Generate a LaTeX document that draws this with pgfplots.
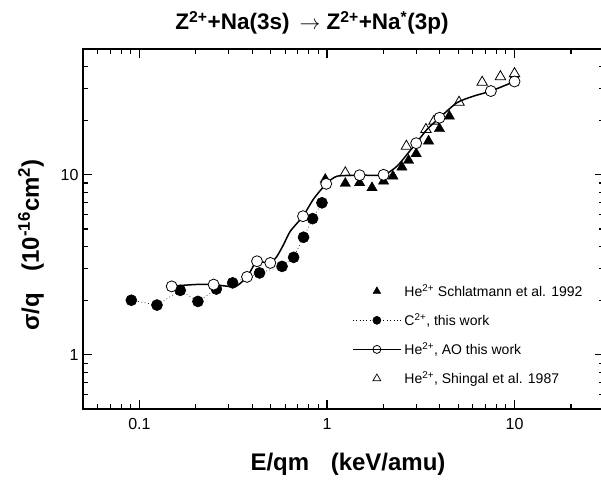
\documentclass[border=0pt]{standalone}
\usepackage{pgfplots}
\pgfplotsset{compat=1.18}
\usepackage{fontspec}
\setmainfont{Liberation Sans}

% C2+, this work
\pgfplotstableread{
x      y
0.0905 2.01
0.124  1.89
0.165  2.28
0.205  1.98
0.257  2.32
0.314  2.51
0.437  2.85
0.576  3.10
0.664  3.48
0.750  4.50
0.838  5.71
0.940  6.99
}\carbon

% He2+, AO this work (points)
\pgfplotstableread{
x      y
0.1486 2.40
0.2486 2.455
0.3746 2.71
0.4235 3.31
0.4986 3.24
0.745  5.89
0.991  8.91
1.492  9.95
2.003  10.0
2.99   14.99
3.983  20.75
7.48   29.2
10.0   33.0
}\heao

% He2+, AO this work (curve)
\pgfplotstableread{
x      y
0.1586 2.42
0.2028 2.46
0.2486 2.455
0.2988 2.40
0.3314 2.42
0.3746 2.71
0.4062 3.13
0.4235 3.31
0.4986 3.24
0.5414 3.53
0.587  4.10
0.6373 4.86
0.745  5.89
0.8484 7.35
0.991  8.91
1.131  9.82
1.492  9.95
2.003  10.0
2.361  11.16
2.669  12.97
2.99   14.99
3.412  17.86
3.983  20.75
4.93   25.15
6.045  27.36
7.48   29.2
10.0   33.0
}\heaocurve

% He2+ Schlatmann et al. 1992
\pgfplotstableread{
x     y
0.979 9.42
1.252 8.95
1.492 9.03
1.738 8.47
2.003 9.21
2.248 9.82
2.51  11.02
2.723 12.01
2.99  13.09
3.48  15.38
3.98  18.03
4.49  21.18
}\schlat

% He2+, Shingal et al. 1987
\pgfplotstableread{
x     y
1.252 10.26
2.651 14.42
3.37  17.86
3.72  19.87
5.06  25.3
6.72  32.7
8.41  35.1
10.0  36.5
}\shingal

\begin{document}
\begin{tikzpicture}[x=1pt,y=1pt]
\useasboundingbox (0,0) rectangle (601,485);
\begin{axis}[
  at={(83pt,76pt)}, anchor=south west,
  scale only axis, width=521pt, height=360pt,
  xmode=log, ymode=log,
  xmin=0.05, xmax=30, ymin=0.5, ymax=50,
  xtick={0.1,1,10}, xticklabels={0.1,1,10},
  ytick={1,10}, yticklabels={1,10},
  minor xtick={0.06,0.07,0.08,0.09,0.2,0.3,0.4,0.5,0.6,0.7,0.8,0.9,2,3,4,5,6,7,8,9,20},
  minor ytick={0.6,0.7,0.8,0.9,2,3,4,5,6,7,8,9,20,30,40},
  tick align=inside,
  axis line style={line width=1.4pt},
  major tick length=9pt, minor tick length=5pt,
  tick style={black, line width=1.1pt},
  ticklabel style={font=\fontsize{16}{18}\selectfont},
  /pgf/number format/assume math mode=true,
  xticklabel style={yshift=-6pt},
  yticklabel style={xshift=-1pt},
  legend style={draw=none, fill=none, at={(0.5165,0.352)}, anchor=north west,
    font=\fontsize{14}{16}\selectfont, row sep=11.5pt, inner sep=0pt,
    nodes={inner xsep=3pt}},
  legend cell align=left,
  legend image code/.code={\draw[mark repeat=2,mark phase=2] plot coordinates {(0pt,0pt) (24pt,0pt) (48pt,0pt)};},
]
% legend
\addlegendimage{only marks, mark=triangle*, mark size=4.5pt, black}
\addlegendentry{He\textsuperscript{2+} Schlatmann et al. 1992}
\addlegendimage{black, line width=0.6pt, dash pattern=on 0.8pt off 2.6pt, mark=*, mark size=4pt, mark options={solid}}
\addlegendentry{C\textsuperscript{2+}, this work}
\addlegendimage{black, line width=1.2pt, mark=o, mark size=4pt, mark options={solid, fill=white, line width=0.8pt}}
\addlegendentry{He\textsuperscript{2+}, AO this work}
\addlegendimage{only marks, mark=triangle, mark size=4.5pt, black, mark options={line width=0.7pt}}
\addlegendentry{He\textsuperscript{2+}, Shingal et al. 1987}

% data
\addplot[forget plot, black, line width=0.6pt, dash pattern=on 0.8pt off 2.6pt,
  mark=*, mark size=5.5pt, mark options={solid}] table {\carbon};
\addplot[forget plot, black, line width=1.5pt, smooth, tension=0.4] table {\heaocurve};
\addplot[forget plot, only marks, black, mark=triangle*, mark size=6pt] table {\schlat};
\addplot[forget plot, only marks, black, mark=triangle, mark size=6pt,
  mark options={fill=white, line width=0.8pt}] table {\shingal};
\addplot[forget plot, only marks, black, mark=*, mark size=5.5pt,
  mark options={fill=white, line width=0.8pt}] table {\heao};
\end{axis}
\node[font=\bfseries\fontsize{22.5}{25}\selectfont] at (312,462)
  {Z\textsuperscript{2+}+Na(3s)\, $\rightarrow$ Z\textsuperscript{2+}+Na\textsuperscript{*}(3p)};
\node[font=\bfseries\fontsize{24}{27}\selectfont] at (348,21) {E/qm\hspace{0.9em}(keV/amu)};
\node[font=\bfseries\fontsize{24}{27}\selectfont, rotate=90] at (31,240)
  {σ/q\hspace{0.9em}(10\textsuperscript{-16}cm\textsuperscript{2})};
\end{tikzpicture}
\end{document}
